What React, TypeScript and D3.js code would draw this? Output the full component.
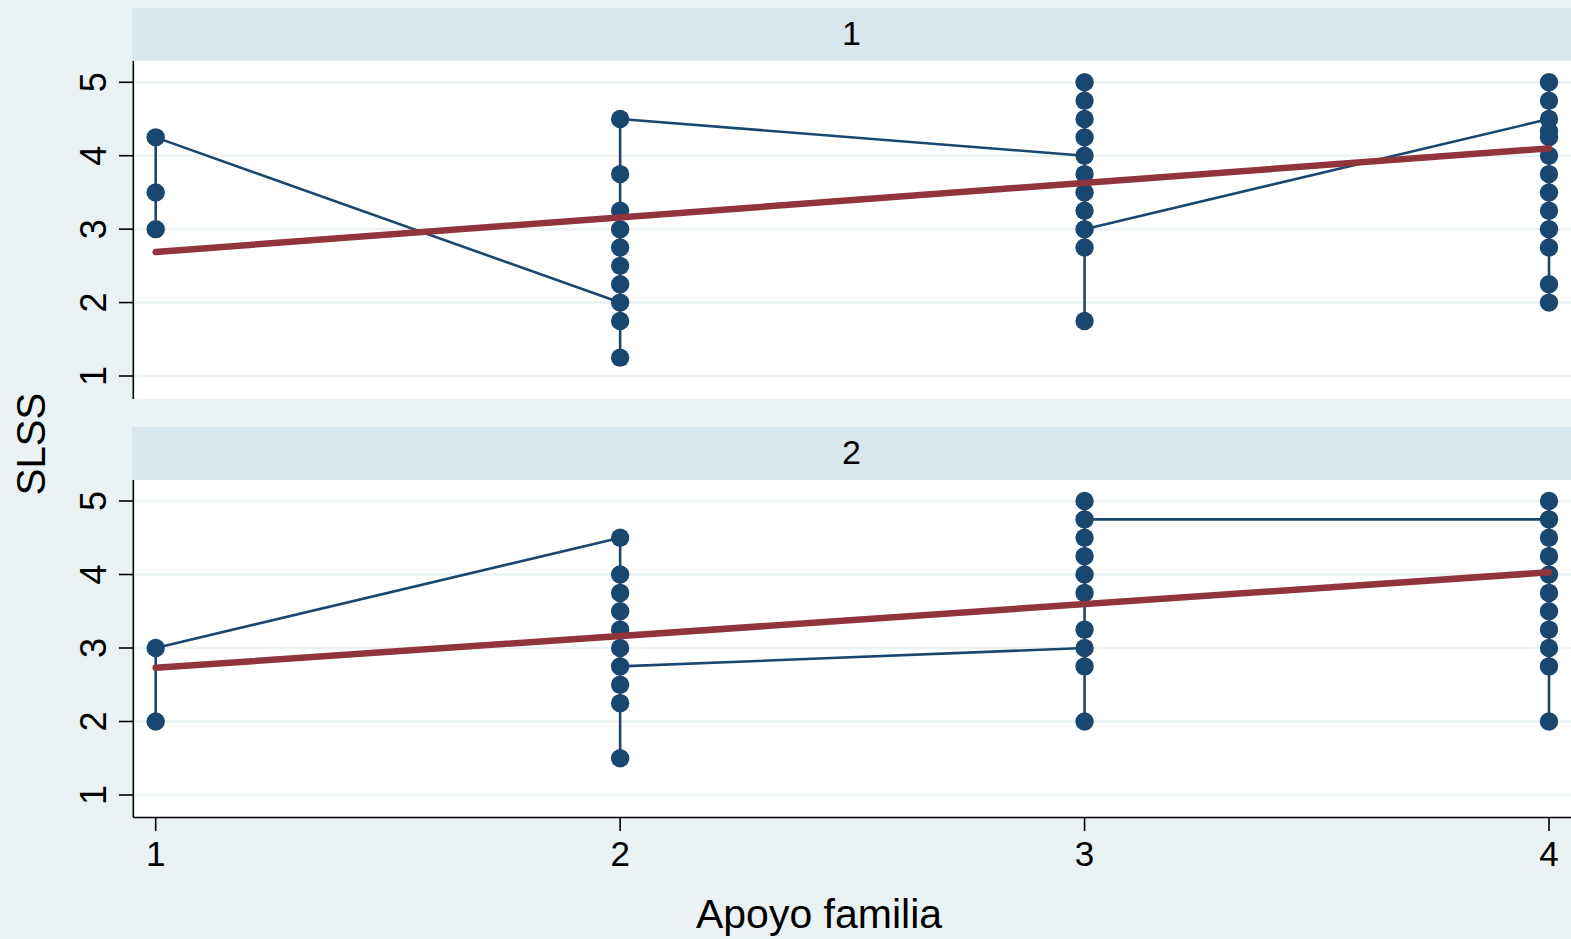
import React from "react";
import * as d3 from "d3";

// ---- data ----
const xTicks = [1, 2, 3, 4];
const yTicks = [1, 2, 3, 4, 5];
const panelLabels = ["1", "2"];

// Points in connection order, grouped by "Apoyo familia" value (1..4)
const panel1X1 = [3, 3.5, 4.25];
const panel1X2 = [2, 1.25, 1.75, 2.25, 2.5, 2.75, 3, 3.25, 3.75, 4.5];
const panel1X3 = [4, 5, 4.75, 4.5, 4.25, 3.75, 3.5, 3.25, 2.75, 1.75, 3];
const panel1X4 = [4.5, 4.333, 4.25, 5, 4.75, 4, 3.75, 3.5, 3.25, 3, 2.75, 2.25, 2];

const panel2X1 = [2, 3];
const panel2X2 = [4.5, 4, 3.75, 3.5, 3.25, 3, 2.5, 2.25, 1.5, 2.75];
const panel2X3 = [3, 2, 2.75, 3.25, 3.75, 4, 4.25, 4.5, 5, 4.75];
const panel2X4 = [4.75, 5, 4.5, 4.25, 4, 3.75, 3.5, 3.25, 3, 2.75, 2];

// Linear fit endpoints (at x=1 and x=4)
const fitStart = [2.69, 2.73];
const fitEnd = [4.1, 4.03];

const panelGroups = [
  [panel1X1, panel1X2, panel1X3, panel1X4],
  [panel2X1, panel2X2, panel2X3, panel2X4],
];

// ---- style ----
const W = 1571;
const H = 939;
const BG = "#EAF2F3";
const STRIP = "#D9E6EB";
const NAVY = "#1A476F";
const RED = "#90353B";
const FONT = "'Liberation Sans', Arial, Helvetica, sans-serif";

const plotLeft = 133.3;
const plotRight = W;
const panels = [
  { stripTop: 8, plotTop: 61, plotBottom: 399, y1: 376, y5: 82.3 },
  { stripTop: 427, plotTop: 480, plotBottom: 817.5, y1: 795, y5: 501 },
];

export default function App() {
  const x = d3.scaleLinear().domain([1, 4]).range([155.7, 1549]);
  const line = d3.line<[number, number]>();

  return (
    <div style={{ position: "fixed", left: 0, top: 0 }}>
      <svg width={W} height={H} style={{ display: "block" }} fontFamily={FONT}>
        <rect x={0} y={0} width={W} height={H} fill={BG} />
        {panels.map((p, pi) => {
          const y = d3.scaleLinear().domain([1, 5]).range([p.y1, p.y5]);
          const groups = panelGroups[pi];
          const pts: [number, number][] = [];
          groups.forEach((vals, gi) => {
            vals.forEach((v) => pts.push([x(xTicks[gi]), y(v)]));
          });
          return (
            <g key={pi}>
              {/* strip */}
              <rect
                x={132}
                y={p.stripTop}
                width={W - 132}
                height={p.plotTop - p.stripTop}
                fill={STRIP}
              />
              <text
                x={(132 + W) / 2}
                y={p.stripTop + 37}
                textAnchor="middle"
                fontSize={34}
                fill="#000"
              >
                {panelLabels[pi]}
              </text>
              {/* plot region */}
              <rect
                x={plotLeft}
                y={p.plotTop}
                width={plotRight - plotLeft}
                height={p.plotBottom - p.plotTop}
                fill="#fff"
              />
              {yTicks.map((t) => (
                <line
                  key={"g" + t}
                  x1={plotLeft}
                  x2={plotRight}
                  y1={y(t)}
                  y2={y(t)}
                  stroke={BG}
                  strokeWidth={2.5}
                />
              ))}
              {/* y axis */}
              <line
                x1={plotLeft}
                x2={plotLeft}
                y1={p.plotTop}
                y2={p.plotBottom}
                stroke="#000"
                strokeWidth={1.6}
              />
              {yTicks.map((t) => (
                <g key={"t" + t}>
                  <line
                    x1={119}
                    x2={plotLeft}
                    y1={y(t)}
                    y2={y(t)}
                    stroke="#000"
                    strokeWidth={1.6}
                  />
                  <text
                    transform={`translate(106,${y(t)}) rotate(-90)`}
                    textAnchor="middle"
                    fontSize={36}
                    fill="#000"
                  >
                    {t}
                  </text>
                </g>
              ))}
              {/* connected line */}
              <path
                d={line(pts) || ""}
                fill="none"
                stroke={NAVY}
                strokeWidth={2.6}
                strokeLinejoin="round"
              />
              {pts.map((pt, i) => (
                <circle key={i} cx={pt[0]} cy={pt[1]} r={9.2} fill={NAVY} />
              ))}
              {/* fit line */}
              <line
                x1={x(1)}
                x2={x(4)}
                y1={y(fitStart[pi])}
                y2={y(fitEnd[pi])}
                stroke={RED}
                strokeWidth={6.5}
                strokeLinecap="round"
              />
            </g>
          );
        })}
        {/* x axis */}
        <line
          x1={plotLeft}
          x2={plotRight}
          y1={817.5}
          y2={817.5}
          stroke="#000"
          strokeWidth={1.6}
        />
        {xTicks.map((t) => (
          <g key={"x" + t}>
            <line x1={x(t)} x2={x(t)} y1={817.5} y2={831} stroke="#000" strokeWidth={1.6} />
            <text x={x(t)} y={866} textAnchor="middle" fontSize={35} fill="#000">
              {t}
            </text>
          </g>
        ))}
        <text x={819} y={928} textAnchor="middle" fontSize={41} fill="#000">
          Apoyo familia
        </text>
        <text
          transform={`translate(45,444) rotate(-90)`}
          textAnchor="middle"
          fontSize={40}
          fill="#000"
        >
          SLSS
        </text>
      </svg>
    </div>
  );
}
